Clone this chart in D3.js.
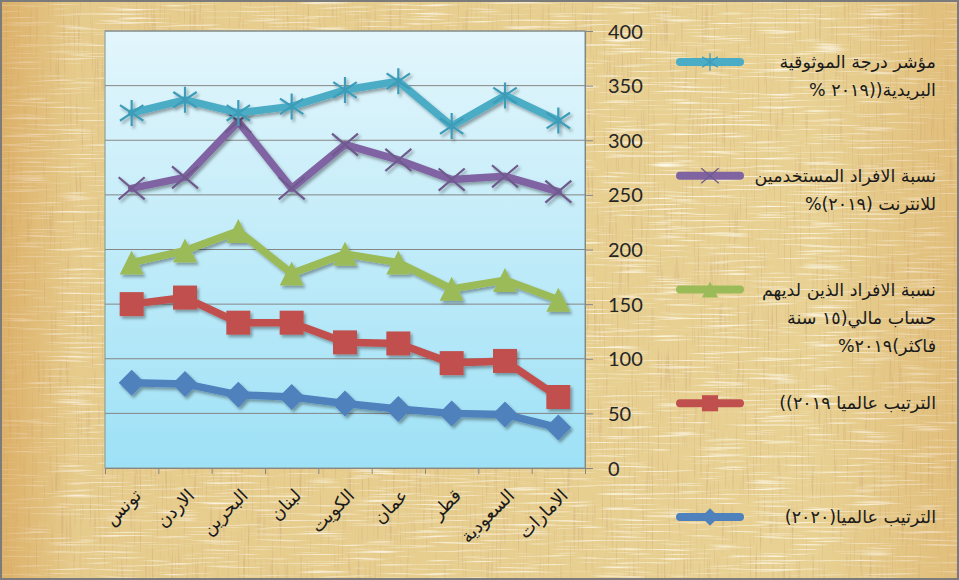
<!DOCTYPE html>
<html lang="ar">
<head>
<meta charset="utf-8">
<title>Stacked line chart</title>
<script src="https://cdn.jsdelivr.net/npm/d3@7"></script>
<style>
  body { margin: 0; background: #fff; }
  svg { display: block; }
  .y-axis text { font: 20px Lato, sans-serif; fill: #262626; }
  .y-axis path, .y-axis line, .x-axis path, .x-axis line { stroke: #868686; }
  .grid line { stroke: #868686; stroke-width: 1; }
  .cat { font: 18px "DejaVu Sans", sans-serif; fill: #1a1a1a; }
  .legend text { font: 17.5px "DejaVu Sans", sans-serif; fill: #1a1a1a; direction: rtl; }
</style>
</head>
<body>
<div id="chart"></div>
<script>
// ---- data (stacked line chart) ----
const countries = ["تونس", "الاردن", "البحرين", "لبنان", "الكويت", "عمان", "قطر", "السعودية", "الامارات"];
const rank2020 = [78, 77, 67, 65, 59, 54, 50, 49, 37];
const rank2019 = [72, 79, 66, 68, 56, 60, 46, 49, 28];
const account  = [38, 43, 84, 45, 81, 74, 68, 74, 89];
const internet = [68, 67, 100, 78, 100, 94, 100, 95, 99];
const postal   = [69, 71, 8, 75, 50, 72, 49, 74, 65];
const yTicks = [0, 50, 100, 150, 200, 250, 300, 350, 400];

const seriesNames = {
  rank2020: ["الترتيب عالميا(٢٠٢٠)"],
  rank2019: ["الترتيب عالميا ٢٠١٩))"],
  account: ["نسبة الافراد الذين لديهم", "حساب مالي(١٥ سنة", "فاكثر)٢٠١٩%"],
  internet: ["نسبة الافراد المستخدمين", "للانترنت (٢٠١٩)%"],
  postal: ["مؤشر درجة الموثوقية", "البريدية((٢٠١٩ %"]
};
const keys = ["rank2020", "rank2019", "account", "internet", "postal"];
const values = { rank2020, rank2019, account, internet, postal };

// ---- styles ----
const colors = { rank2020: "#4f81bd", rank2019: "#c0504d", account: "#9bbb59", internet: "#8064a2", postal: "#4bacc6" };
const markStroke = { internet: "#6e5a8c", postal: "#3c9cb8" };

// custom marker shapes for d3.symbol
const shapes = {
  rank2020: { draw(c, s) { const r = Math.sqrt(s) / 2; c.moveTo(0, -r); c.lineTo(r, 0); c.lineTo(0, r); c.lineTo(-r, 0); c.closePath(); } },
  rank2019: { draw(c, s) { const r = Math.sqrt(s) / 2; c.rect(-r, -r, 2 * r, 2 * r); } },
  account:  { draw(c, s) { const r = Math.sqrt(s) / 2; c.moveTo(0, -r); c.lineTo(r, r); c.lineTo(-r, r); c.closePath(); } },
  internet: { draw(c, s) { const r = Math.sqrt(s) / 2; c.moveTo(-r, -r * 0.85); c.lineTo(r, r * 0.85); c.moveTo(-r, r * 0.85); c.lineTo(r, -r * 0.85); } },
  postal:   { draw(c, s) { const r = Math.sqrt(s) / 2; c.moveTo(0, -r); c.lineTo(0, r); c.moveTo(-r * 0.9, -r * 0.6); c.lineTo(r * 0.9, r * 0.6); c.moveTo(-r * 0.9, r * 0.6); c.lineTo(r * 0.9, -r * 0.6); } }
};
const filled = { rank2020: true, rank2019: true, account: true, internet: false, postal: false };

const W = 959, H = 580;
const plot = { left: 105, right: 585, top: 31, bottom: 468 };

const svg = d3.select("#chart").append("svg").attr("width", W).attr("height", H);
const defs = svg.append("defs");

// papyrus texture: dark vertical fibres + light horizontal fibres
const paper = defs.append("filter").attr("id", "paper")
  .attr("x", 0).attr("y", 0).attr("width", "100%").attr("height", "100%")
  .attr("filterUnits", "userSpaceOnUse");
paper.append("feTurbulence").attr("type", "fractalNoise").attr("baseFrequency", "0.5 0.02")
  .attr("numOctaves", 2).attr("seed", 4).attr("result", "v");
paper.append("feTurbulence").attr("type", "fractalNoise").attr("baseFrequency", "0.02 0.45")
  .attr("numOctaves", 2).attr("seed", 11).attr("result", "h");
paper.append("feColorMatrix").attr("in", "v").attr("type", "matrix").attr("result", "dark")
  .attr("values", "0 0 0 0 0.7  0 0 0 0 0.5  0 0 0 0 0.24  3.2 0 0 0 -1.75");
paper.append("feColorMatrix").attr("in", "h").attr("type", "matrix").attr("result", "light")
  .attr("values", "0 0 0 0 0.99  0 0 0 0 0.95  0 0 0 0 0.82  -3.2 0 0 0 1.45");
paper.append("feMerge").call(m => {
  m.append("feMergeNode").attr("in", "dark");
  m.append("feMergeNode").attr("in", "light");
});

const edge = defs.append("linearGradient").attr("id", "edge");
edge.append("stop").attr("offset", "0").attr("stop-color", "#d49a4c").attr("stop-opacity", 0.6);
edge.append("stop").attr("offset", "0.08").attr("stop-color", "#d49a4c").attr("stop-opacity", 0.1);
edge.append("stop").attr("offset", "0.85").attr("stop-color", "#d49a4c").attr("stop-opacity", 0.0);
edge.append("stop").attr("offset", "1").attr("stop-color", "#d49a4c").attr("stop-opacity", 0.35);

const sky = defs.append("linearGradient").attr("id", "sky").attr("x1", 0).attr("y1", 0).attr("x2", 0).attr("y2", 1);
sky.append("stop").attr("offset", "0").attr("stop-color", "#e3f6fc");
sky.append("stop").attr("offset", "1").attr("stop-color", "#9ee1f6");

const shadow = defs.append("filter").attr("id", "shadow").attr("x", "-10%").attr("y", "-10%").attr("width", "130%").attr("height", "130%");
shadow.append("feDropShadow").attr("dx", 2).attr("dy", 2.5).attr("stdDeviation", 1.6)
  .attr("flood-color", "#000").attr("flood-opacity", 0.35);

svg.append("rect").attr("width", W).attr("height", H).attr("fill", "#e8d193");
svg.append("rect").attr("width", W).attr("height", H).attr("fill", "#fff").attr("filter", "url(#paper)");
svg.append("rect").attr("width", W).attr("height", H).attr("fill", "url(#edge)");

// ---- scales ----
const x = d3.scaleBand().domain(countries).range([plot.left, plot.right]);
const xEdge = d3.scaleLinear().domain([0, countries.length]).range([plot.left, plot.right]);
const y = d3.scaleLinear().domain([0, 400]).range([plot.bottom, plot.top]);
const cx = d => x(d) + x.bandwidth() / 2;

svg.append("rect")
  .attr("x", plot.left).attr("y", plot.top)
  .attr("width", plot.right - plot.left).attr("height", plot.bottom - plot.top)
  .attr("fill", "url(#sky)").attr("stroke", "#8ea69c").attr("stroke-width", 1.2);

svg.append("g").attr("class", "grid")
  .selectAll("line").data(yTicks.filter(v => v > 0)).join("line")
  .attr("x1", plot.left).attr("x2", plot.right)
  .attr("y1", d => y(d)).attr("y2", d => y(d));

svg.append("g").attr("class", "y-axis")
  .attr("transform", `translate(${plot.right},0)`)
  .call(d3.axisRight(y).tickValues(yTicks).tickSize(8).tickSizeOuter(0).tickPadding(15))
  .call(g => g.selectAll("text").attr("dy", "0.35em"));

svg.append("g").attr("class", "x-axis")
  .attr("transform", `translate(0,${plot.bottom})`)
  .call(d3.axisBottom(xEdge).ticks(countries.length).tickSize(6).tickSizeOuter(0).tickFormat(""));

svg.selectAll(".cat").data(countries).join("text")
  .attr("class", "cat")
  .attr("text-anchor", "end")
  .attr("dominant-baseline", "central")
  .attr("transform", d => `translate(${cx(d) + 6},${plot.bottom + 24}) rotate(-45)`)
  .text(d => d);

// ---- stacked series ----
const rows = countries.map((c, i) => {
  const r = { country: c };
  keys.forEach(k => { r[k] = values[k][i]; });
  return r;
});
const stacked = d3.stack().keys(keys)(rows);

const line = d3.line().x(d => cx(d.data.country)).y(d => y(d[1]));
const markerSize = { rank2020: 26 * 26, rank2019: 24 * 24, account: 24 * 24, internet: 26 * 26, postal: 26 * 26 };

const layers = svg.append("g").selectAll("g").data(stacked).join("g")
  .attr("filter", "url(#shadow)");

layers.append("path")
  .attr("d", line)
  .attr("fill", "none")
  .attr("stroke", s => colors[s.key])
  .attr("stroke-width", 7.5)
  .attr("stroke-linejoin", "round")
  .attr("stroke-linecap", "round");

layers.each(function (s) {
  const sym = d3.symbol().type(shapes[s.key]).size(markerSize[s.key]);
  d3.select(this).selectAll("path.m").data(s).join("path")
    .attr("class", "m")
    .attr("d", sym)
    .attr("transform", d => `translate(${cx(d.data.country)},${y(d[1])})`)
    .attr("fill", filled[s.key] ? colors[s.key] : "none")
    .attr("stroke", filled[s.key] ? "none" : markStroke[s.key])
    .attr("stroke-width", 2.2);
});

// ---- legend (top to bottom: reverse stacking order) ----
const legendKeys = keys.slice().reverse();
const legY = d3.scalePoint().domain(legendKeys).range([62, 517]);
const legend = svg.append("g").attr("class", "legend")
  .selectAll("g").data(legendKeys).join("g")
  .attr("transform", k => `translate(0,${legY(k)})`);

legend.append("line")
  .attr("x1", 680).attr("x2", 740).attr("y1", 0).attr("y2", 0)
  .attr("stroke", k => colors[k]).attr("stroke-width", 8).attr("stroke-linecap", "round");
legend.append("path")
  .attr("d", k => d3.symbol().type(shapes[k]).size(markerSize[k] * 0.45)())
  .attr("transform", "translate(710,0)")
  .attr("fill", k => filled[k] ? colors[k] : "none")
  .attr("stroke", k => filled[k] ? "none" : markStroke[k])
  .attr("stroke-width", 1.3);

legend.each(function (k) {
  d3.select(this).selectAll("text").data(seriesNames[k]).join("text")
    .attr("x", 936)
    .attr("y", (d, i) => i * 28)
    .attr("dy", "0.35em")
    .attr("text-anchor", "start")
    .text(d => d);
});

// frame
svg.append("rect").attr("x", 1).attr("y", 1).attr("width", W - 2).attr("height", H - 2)
  .attr("fill", "none").attr("stroke", "#7b7b7b").attr("stroke-width", 2);
</script>
</body>
</html>
